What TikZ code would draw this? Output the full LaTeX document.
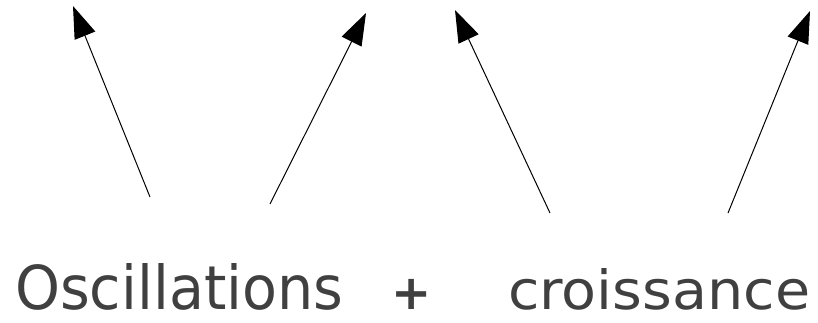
\documentclass[tikz,border=0pt]{standalone}
\usepackage{fontspec}
\setmainfont{DejaVu Sans}
\usetikzlibrary{arrows.meta}
\definecolor{txt}{HTML}{404040}
\tikzset{
  arr/.style={line width=1pt, -{Triangle[length=32pt,width=22pt]}},
  word/.style={inner sep=0pt, text=txt, anchor=base west},
}
\begin{document}
\begin{tikzpicture}[x=1pt,y=-1pt]
\useasboundingbox (0,0) rectangle (818,322);
% arrows
\coordinate (t1) at (150,197); \coordinate (h1) at (73,6);
\coordinate (t2) at (270,204); \coordinate (h2) at (366,13);
\coordinate (t3) at (550,213); \coordinate (h3) at (455,10);
\coordinate (t4) at (728,213); \coordinate (h4) at (810,11);
\draw[arr] (t1) -- (h1);
\draw[arr] (t2) -- (h2);
\draw[arr] (t3) -- (h3);
\draw[arr] (t4) -- (h4);
% text
\node[word] (osc) at (15,309.5) {\resizebox{328pt}{46pt}{Oscillations}};
\node[inner sep=0pt, text=txt, anchor=center] (plus) at (411.5,294) {\fontsize{48}{48}\selectfont\bfseries +};
\node[word] (cro) at (508,309.5) {\resizebox{302pt}{41pt}{croissance}};
\end{tikzpicture}
\end{document}
